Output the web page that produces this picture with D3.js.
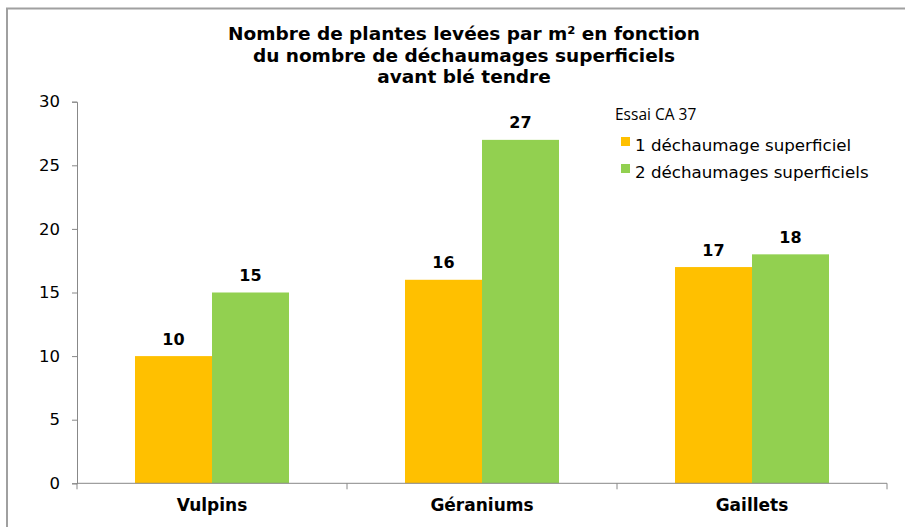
<!DOCTYPE html>
<html>
<head>
<meta charset="utf-8">
<script src="https://cdn.jsdelivr.net/npm/d3@7"></script>
<style>
  body { margin: 0; background: #ffffff; }
  svg { display: block; }
</style>
</head>
<body>
<div class="graph"></div>
<script>

// data

var categories = ["Vulpins", "Géraniums", "Gaillets"];
var seriesNames = ["1 déchaumage superficiel", "2 déchaumages superficiels"];
var oneDechaumage = [10, 16, 17];
var twoDechaumages = [15, 27, 18];
var yTicks = [0, 5, 10, 15, 20, 25, 30];
var titleLines = ["Nombre de plantes levées par m² en fonction",
                  "du nombre de déchaumages superficiels",
                  "avant blé tendre"];
var legendTitle = "Essai CA 37";

var colors = ["#FFC000", "#92D050"];

var svgWidth = 905;
var svgHeight = 527;

var plotLeft = 77;
var plotRight = 887;
var plotTop = 101.7;
var plotBottom = 483.3;

var svg = d3.select("div.graph")
		.append("svg")
		.attr("width", svgWidth)
		.attr("height", svgHeight);

// frame
svg.append("rect")
	.attr("x", 7)
	.attr("y", 8.5)
	.attr("width", svgWidth)
	.attr("height", svgHeight)
	.attr("fill", "none")
	.attr("stroke", "#a0a0a0")
	.attr("stroke-width", 2);

// title
svg.append("g")
	.selectAll("text")
	.data(titleLines)
	.enter()
	.append("text")
	.attr("x", 464)
	.attr("y", function(d, i) { return 40 + i * 21.5; })
	.attr("text-anchor", "middle")
	.attr("font-family", "DejaVu Sans")
	.attr("font-weight", "bold")
	.attr("font-size", "18.5px")
	.attr("fill", "#000")
	.text(function(d) { return d; });

var x0 = d3.scaleBand()
	.domain(categories)
	.range([plotLeft, plotRight])
	.paddingInner(0)
	.paddingOuter(0);

var x1 = d3.scaleBand()
	.domain([0, 1])
	.range([58, x0.bandwidth() - 58]);

var y = d3.scaleLinear()
	.domain([0, 30])
	.range([plotBottom, plotTop]);

// y axis
var yAxis = d3.axisLeft(y)
	.tickValues(yTicks)
	.tickSize(5)
	.tickPadding(12);

var gY = svg.append("g")
	.attr("transform", "translate(" + plotLeft + ",0)")
	.call(yAxis);
gY.select(".domain").attr("stroke", "#888");
gY.selectAll(".tick line").attr("stroke", "#888");
gY.selectAll(".tick text")
	.attr("font-family", "DejaVu Sans")
	.attr("font-size", "16.5px")
	.attr("fill", "#000");

// bars
var rows = categories.map(function(c, i) {
	return { cat: c, values: [oneDechaumage[i], twoDechaumages[i]] };
});

var groups = svg.append("g")
	.selectAll("g")
	.data(rows)
	.enter()
	.append("g")
	.attr("transform", function(d) { return "translate(" + x0(d.cat) + ",0)"; });

groups.selectAll("rect")
	.data(function(d) { return d.values; })
	.enter()
	.append("rect")
	.attr("x", function(d, i) { return x1(i); })
	.attr("width", x1.bandwidth())
	.attr("y", function(d) { return y(d); })
	.attr("height", function(d) { return plotBottom - y(d); })
	.attr("fill", function(d, i) { return colors[i]; });

groups.selectAll("text")
	.data(function(d) { return d.values; })
	.enter()
	.append("text")
	.attr("x", function(d, i) { return x1(i) + x1.bandwidth() / 2; })
	.attr("y", function(d) { return y(d) - 11.5; })
	.attr("text-anchor", "middle")
	.attr("font-family", "DejaVu Sans")
	.attr("font-weight", "bold")
	.attr("font-size", "16px")
	.attr("fill", "#000")
	.text(function(d) { return d; });

// x axis
var gX = svg.append("g")
	.attr("transform", "translate(0," + plotBottom + ")");

gX.append("line")
	.attr("x1", plotLeft)
	.attr("x2", plotRight)
	.attr("stroke", "#888");

gX.selectAll("line.tk")
	.data([plotLeft].concat(categories.map(function(c) { return x0(c) + x0.bandwidth(); })))
	.enter()
	.append("line")
	.attr("class", "tk")
	.attr("x1", function(d) { return d; })
	.attr("x2", function(d) { return d; })
	.attr("y1", 0)
	.attr("y2", 6)
	.attr("stroke", "#888");

gX.selectAll("text")
	.data(categories)
	.enter()
	.append("text")
	.attr("x", function(d) { return x0(d) + x0.bandwidth() / 2; })
	.attr("y", 28)
	.attr("text-anchor", "middle")
	.attr("font-family", "DejaVu Sans")
	.attr("font-weight", "bold")
	.attr("font-size", "17px")
	.attr("fill", "#000")
	.text(function(d) { return d; });

// legend
svg.append("text")
	.attr("x", 615)
	.attr("y", 120)
	.attr("font-family", "Open Sans")
	.attr("font-size", "15.5px")
	.attr("fill", "#000")
	.text(legendTitle);

var legend = svg.append("g")
	.selectAll("g")
	.data(seriesNames)
	.enter()
	.append("g")
	.attr("transform", function(d, i) { return "translate(621," + (137 + i * 27) + ")"; });

legend.append("rect")
	.attr("width", 9)
	.attr("height", 9)
	.attr("fill", function(d, i) { return colors[i]; });

legend.append("text")
	.attr("x", 14)
	.attr("y", 14)
	.attr("font-family", "DejaVu Sans")
	.attr("font-size", "16.7px")
	.attr("fill", "#000")
	.text(function(d) { return d; });

</script>
</body>
</html>
